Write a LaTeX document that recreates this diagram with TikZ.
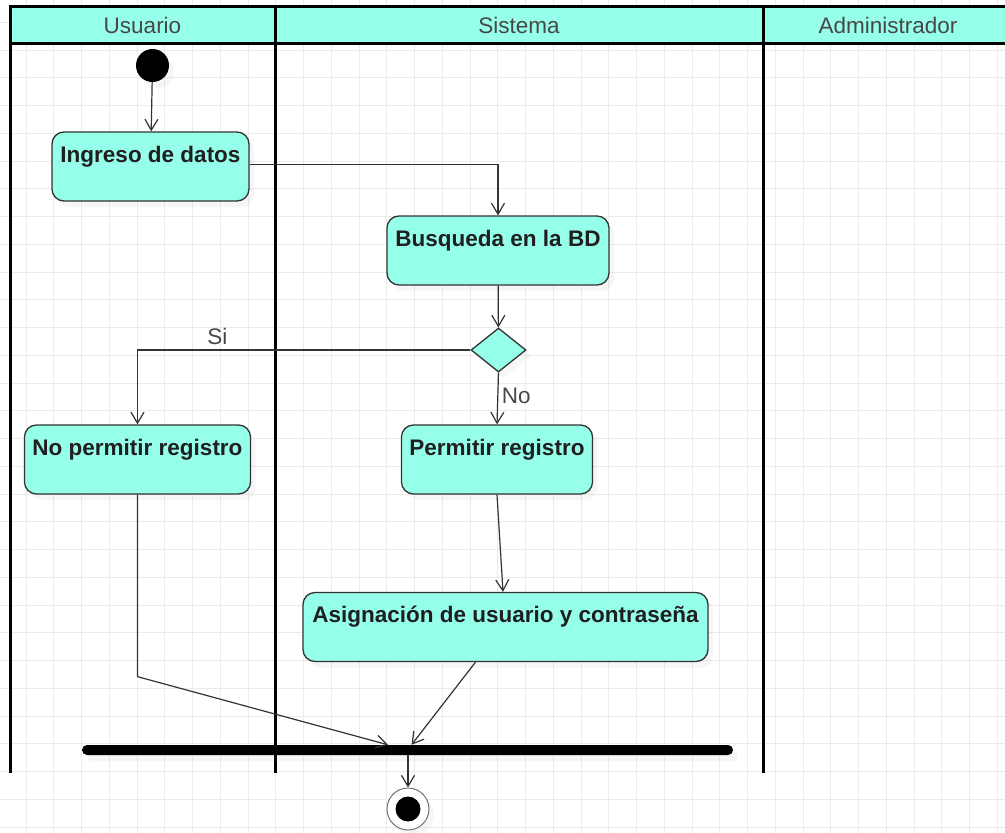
\documentclass[tikz,border=0pt]{standalone}
\usepackage{fontspec}
\setmainfont{Liberation Sans}
\usetikzlibrary{arrows.meta,shapes.geometric,shadows}
\definecolor{lanefill}{HTML}{96FFE9}
\definecolor{edgegray}{HTML}{333333}
\newcommand\diagfont{\fontsize{22.5}{27}\selectfont}
\tikzset{
  gridline/.style={draw=black!8,line width=0.8pt},
  softshadow/.style={drop shadow={shadow xshift=5pt,shadow yshift=-6pt,opacity=0.07}},
  act/.style={draw=edgegray,line width=1.3pt,fill=lanefill,rounded corners=12pt,
    font=\diagfont\bfseries,text=black!88,inner xsep=8pt,inner ysep=4pt,
    text height=26pt,text depth=35pt,softshadow},
  flow/.style={draw=edgegray,line width=1.2pt,-{Straight Barb[length=11pt,width=13pt]}},
  lbl/.style={font=\diagfont,text=black!72},
}
\begin{document}
\begin{tikzpicture}[x=1pt,y=-1pt]
  \useasboundingbox (0,0) rectangle (1005,833);
  % grid
  \foreach \i in {0,...,36} \draw[gridline] ({-1.75+27.75*\i},0) -- ++(0,833);
  \foreach \j in {0,...,30} \draw[gridline] (0,{-5.5+27.75*\j}) -- ++(1005,0);
  % lanes
  \fill[lanefill] (10,6) rectangle (1013,43);
  \draw[line width=3pt]
    (1013,6) -- (10,6) -- (10,773) (10,43) -- (1013,43)
    (275,6) -- (275,773) (763,6) -- (763,773);
  \foreach \x/\texn/\nm in {142.5/Usuario/usu,519/Sistema/sis,888/Administrador/adm}
    \node[lbl,anchor=base] (\nm) at (\x,33.5) {\texn};
  % activities
  \node[circle,fill=black,minimum size=33pt,inner sep=0,softshadow] (init) at (152.5,65.5) {};
  \node[act,minimum width=197pt] (ingreso) at (150.5,166.5) {Ingreso de datos};
  \node[act,minimum width=222pt] (busq) at (498,250.5) {Busqueda en la BD};
  \node[diamond,draw=edgegray,line width=1.3pt,fill=lanefill,minimum width=55pt,
    minimum height=44pt,inner sep=0,softshadow] (dec) at (498.5,350) {};
  \node[act,minimum width=225pt] (noperm) at (137.5,459.5) {No permitir registro};
  \node[act,minimum width=190pt] (perm) at (497,459.5) {Permitir registro};
  \node[act,minimum width=405pt] (asig) at (505.5,627) {Asignación de usuario y contraseña};
  \node[fill=black,rounded corners=5pt,minimum width=651pt,minimum height=10pt,
    inner sep=0,softshadow] (bar) at (407.5,750) {};
  \node[circle,draw=black!55,line width=1pt,fill=white,minimum size=42pt,inner sep=0,
    softshadow] (fin) at (408,809) {};
  \node[circle,fill=black,minimum size=25pt,inner sep=0] (finin) at (fin) {};
  % flows
  \draw[flow] (init) -- (ingreso);
  \draw[flow] ([yshift=2pt]ingreso.east) -| (busq.north);
  \draw[flow] (busq) -- (dec);
  \draw[flow] (dec.west) -| node[lbl,pos=0.38,above=1pt]{Si} (noperm.north);
  \draw[flow] (dec.south) -- node[lbl,pos=0.45,right]{No} (perm.north);
  \draw[flow] (perm.south) -- ([xshift=-2.5pt]asig.north);
  \draw[flow] (noperm.south) -- ++(0,182) -- ([xshift=-19.5pt]bar.north);
  \draw[flow] ([xshift=-30pt]asig.south) -- ([xshift=4pt]bar.north);
  \draw[flow] (bar.south -| fin) -- (fin);
\end{tikzpicture}
\end{document}
